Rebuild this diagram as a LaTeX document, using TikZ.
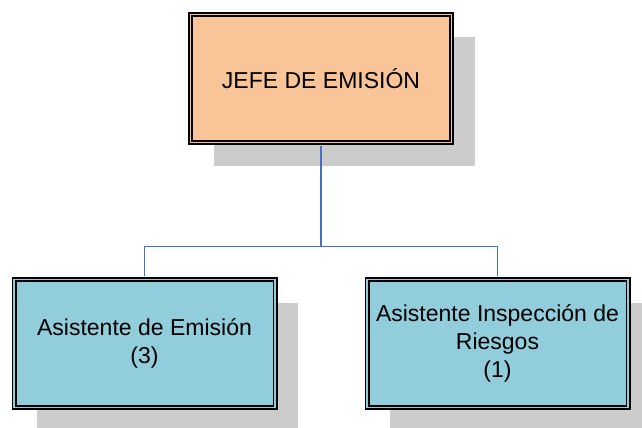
\documentclass[tikz,border=0pt]{standalone}
\usepackage{fontspec}
\setmainfont{Liberation Sans}
\usepackage{tikz}
\usetikzlibrary{shadows, calc}
\definecolor{jefeorange}{RGB}{248,196,152}
\definecolor{asisblue}{RGB}{146,205,220}
\definecolor{linkblue}{RGB}{68,114,196}
\definecolor{shadowgray}{RGB}{204,204,204}

\begin{document}
\begin{tikzpicture}[
    x=1pt, y=1pt,
    font=\fontsize{23}{28}\selectfont,
    box/.style={rectangle, draw=black, line width=1.6pt, double=#1, double distance=1.8pt,
                fill=#1, minimum width=261pt, minimum height=128pt, align=center, inner sep=0pt,
                drop shadow={shadow xshift=23pt, shadow yshift=-23pt, fill=shadowgray, opacity=1}},
    link/.style={draw=linkblue, line width=1.4pt, shorten <=2.5pt, shorten >=2.5pt},
]
\useasboundingbox (0,0) rectangle (642,-428);

% --- head of the section ---
\node[box=jefeorange] (jefe) at (321,-78.5) {JEFE DE EMISIÓN};

% --- assistants ---
\node[box=asisblue] (asisEmi) at (144.5,-343.5) {Asistente de Emisión\\(3)};
\node[box=asisblue] (asisRie) at (497.5,-343.5) {Asistente Inspección de\\Riesgos\\(1)};

% --- org chart links ---
\coordinate (bus) at ($(jefe.south)+(0,-103)$);
\draw[link, shorten >=0pt] (jefe.south) -- (bus);
\draw[link] (asisEmi.north) |- (bus) -| (asisRie.north);
\end{tikzpicture}
\end{document}
